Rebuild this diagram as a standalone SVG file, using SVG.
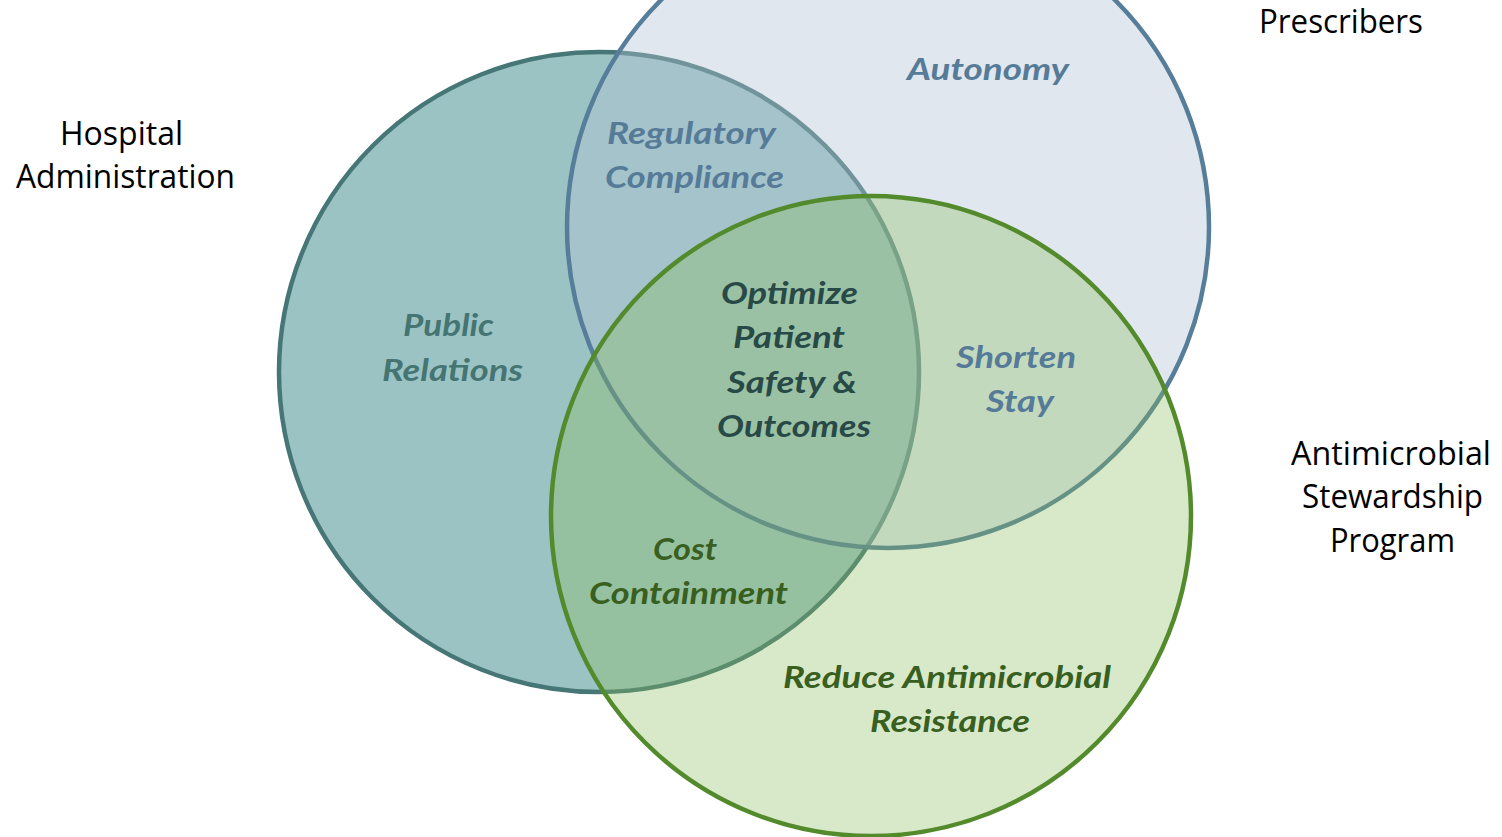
<svg xmlns="http://www.w3.org/2000/svg" width="1502" height="837" viewBox="0 0 1502 837">
<style>
.lbl{font-family:"Open Sans","Noto Sans","Liberation Sans",sans-serif;font-size:32px;fill:#000}
.in{font-family:Lato,"Open Sans","Liberation Sans",sans-serif;font-size:30px;font-weight:bold;font-style:italic}
.blue{fill:#567B98}
.teal{fill:#457572}
.dark{fill:#284A47}
.green{fill:#385F1F}
.ring{stroke-width:4.5}
</style>
<rect width="1502" height="837" fill="#fff"/>
<g id="hospital">
<circle class="ring" cx="599" cy="372" r="320" fill="#9BC3C4" stroke="#477676"/>
</g>
<g id="prescribers">
<circle class="ring" cx="888" cy="227" r="321" fill="rgb(177,195,212)" fill-opacity="0.4" stroke="#567E9B"/>
</g>
<g id="asp">
<circle class="ring" cx="871" cy="516" r="320" fill="rgb(136,188,91)" fill-opacity="0.33" stroke="#538A2B"/>
</g>
<g id="labels-outer">
<text class="lbl" x="60" y="145" textLength="123" lengthAdjust="spacingAndGlyphs">Hospital</text>
<text class="lbl" x="16" y="188" textLength="219" lengthAdjust="spacingAndGlyphs">Administration</text>
<text class="lbl" x="1259" y="33" textLength="164" lengthAdjust="spacingAndGlyphs">Prescribers</text>
<text class="lbl" x="1291" y="465" textLength="200" lengthAdjust="spacingAndGlyphs">Antimicrobial</text>
<text class="lbl" x="1302" y="508" textLength="181" lengthAdjust="spacingAndGlyphs">Stewardship</text>
<text class="lbl" x="1330" y="552" textLength="125" lengthAdjust="spacingAndGlyphs">Program</text>
</g>
<g id="labels-inner">
<text class="in blue" x="907" y="80" textLength="162" lengthAdjust="spacingAndGlyphs">Autonomy</text>
<text class="in blue" x="607" y="144" textLength="169" lengthAdjust="spacingAndGlyphs">Regulatory</text>
<text class="in blue" x="605" y="188" textLength="179" lengthAdjust="spacingAndGlyphs">Compliance</text>
<text class="in teal" x="403" y="336" textLength="91" lengthAdjust="spacingAndGlyphs">Public</text>
<text class="in teal" x="382" y="381" textLength="141" lengthAdjust="spacingAndGlyphs">Relations</text>
<text class="in dark" x="721" y="304" textLength="137" lengthAdjust="spacingAndGlyphs">Optimize</text>
<text class="in dark" x="733" y="348" textLength="112" lengthAdjust="spacingAndGlyphs">Patient</text>
<text class="in dark" x="727" y="393" textLength="130" lengthAdjust="spacingAndGlyphs">Safety &amp;</text>
<text class="in dark" x="717" y="437" textLength="154" lengthAdjust="spacingAndGlyphs">Outcomes</text>
<text class="in blue" x="956" y="368" textLength="120" lengthAdjust="spacingAndGlyphs">Shorten</text>
<text class="in blue" x="986" y="412" textLength="68" lengthAdjust="spacingAndGlyphs">Stay</text>
<text class="in green" x="653" y="560" textLength="64" lengthAdjust="spacingAndGlyphs">Cost</text>
<text class="in green" x="589" y="604" textLength="199" lengthAdjust="spacingAndGlyphs">Containment</text>
<text class="in green" x="783" y="688" textLength="328" lengthAdjust="spacingAndGlyphs">Reduce Antimicrobial</text>
<text class="in green" x="870" y="732" textLength="160" lengthAdjust="spacingAndGlyphs">Resistance</text>
</g>
</svg>
